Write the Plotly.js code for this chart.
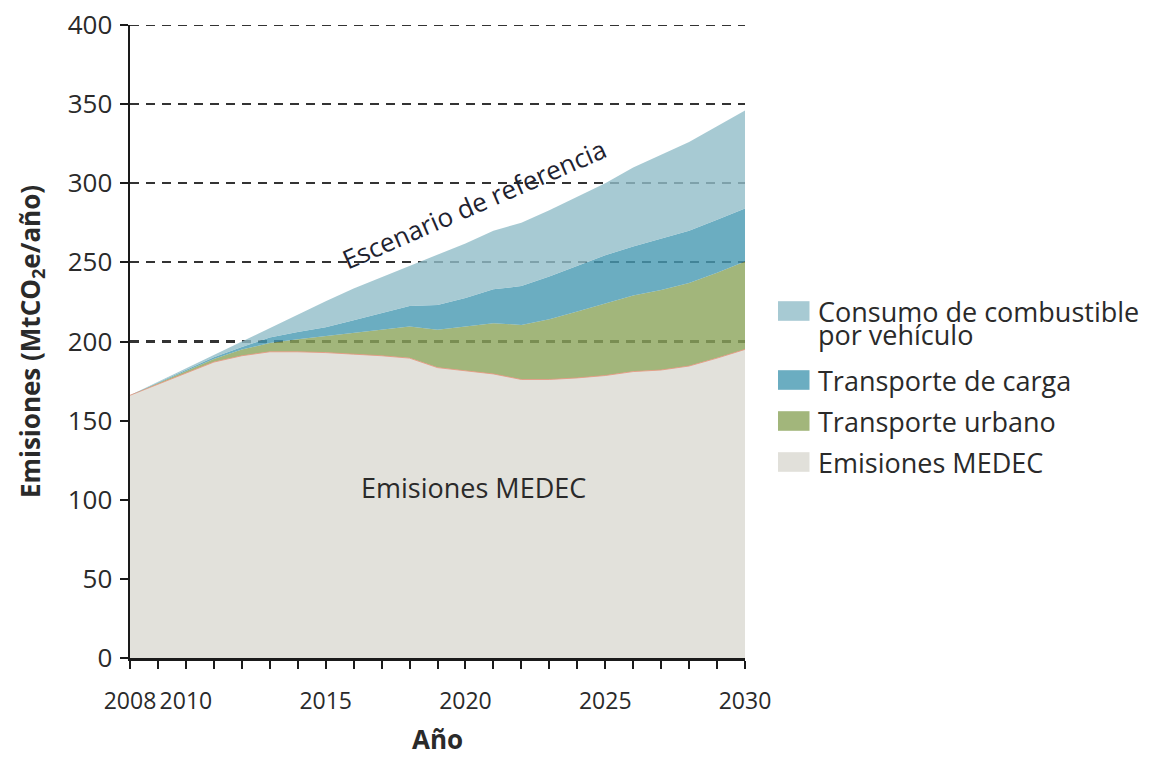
<!DOCTYPE html>
<html>
<head>
<meta charset="utf-8">
<script src="https://cdn.plot.ly/plotly-3.0.1.min.js"></script>
<style>
  html, body { margin: 0; padding: 0; background: #ffffff; }
  #chart { width: 1150px; height: 757px; }
</style>
</head>
<body>
<div id="chart"></div>
<script>
// ---- Data (MtCO2e/año) ----
const years = [2008, 2009, 2010, 2011, 2012, 2013, 2014, 2015, 2016, 2017, 2018, 2019,
               2020, 2021, 2022, 2023, 2024, 2025, 2026, 2027, 2028, 2029, 2030];
const emisionesMEDEC = [166, 173, 180, 187, 191, 193.5, 193.5, 193, 192, 191, 189.5, 183.5,
                        181.5, 179.5, 176, 176, 177, 178.5, 181, 182, 184.5, 189.5, 195];
const transporteUrbano = [0, 0.5, 1, 2, 4, 5.5, 8, 10.5, 13.5, 16.5, 20, 24,
                          28, 32, 34.5, 38, 42, 45.5, 48, 50.5, 52.5, 54, 55.5];
const transporteCarga = [0, 0.5, 1, 1, 1.5, 3.5, 4.5, 5.5, 8, 10.5, 13, 15.5,
                         18, 21.5, 24.5, 27, 29, 30.5, 31, 32.5, 33, 33.5, 33.5];
const consumoCombustible = [0, 0.5, 1, 1.5, 3.5, 6, 11, 16.5, 20, 22.5, 25, 31.5,
                            34.5, 37, 40, 42, 43.5, 45.5, 50, 53, 56, 59, 62];

const seriesNames = ['Emisiones MEDEC', 'Transporte urbano', 'Transporte de carga',
                     'Consumo de combustible por vehículo'];
const legendLines = [['Consumo de combustible', 'por vehículo'], ['Transporte de carga'],
                     ['Transporte urbano'], ['Emisiones MEDEC']];
const xTickVals = [2008, 2010, 2015, 2020, 2025, 2030];
const xTickLabels = ['2008', '2010', '2015', '2020', '2025', '2030'];
const yTickVals = [0, 50, 100, 150, 200, 250, 300, 350, 400];

// ---- Styles ----
const swatchColors = ['#a7cad3', '#6badc1', '#a2b67b', '#e1e0da']; // legend order
const fills = ['#e2e1db', 'rgba(139,164,90,0.8)', 'rgba(70,153,178,0.8)', 'rgba(145,189,200,0.8)'];
const seriesValues = [emisionesMEDEC, transporteUrbano, transporteCarga, consumoCombustible];
const textColor = '#2a2a2a';

const traces = seriesValues.map((vals, i) => ({
  type: 'scatter',
  mode: 'lines',
  x: years,
  y: vals,
  name: seriesNames[i],
  stackgroup: 'one',
  fillcolor: fills[i],
  line: i === 0 ? {color: 'rgba(232,150,128,0.85)', width: 1} : {color: fills[i], width: 0},
  showlegend: false,
  hoverinfo: 'skip'
}));

// Plot area in pixels
const L = 130, R = 745, T = 25, B = 658;
const px2x = p => (p - L) / (R - L);
const px2y = p => (B - p) / (B - T);

// ---- Manual legend (swatches + labels) ----
const shapes = [];
const annotations = [];
let cy = 311;
legendLines.forEach((lines, i) => {
  shapes.push({
    type: 'rect', xref: 'paper', yref: 'paper',
    x0: px2x(778), x1: px2x(809.5), y0: px2y(cy - 9.8), y1: px2y(cy + 9.8),
    fillcolor: swatchColors[i], line: {width: 0}, layer: 'above'
  });
  lines.forEach((ln, j) => {
    annotations.push({
      xref: 'paper', yref: 'paper', x: px2x(816), y: px2y(cy + j * 23),
      xanchor: 'left', yanchor: 'middle', showarrow: false, text: ln,
      font: {family: 'Open Sans, sans-serif', size: 27, color: textColor}
    });
  });
  cy += 41 + (lines.length - 1) * 28;
});

// top gridline at the upper range edge (Plotly omits the grid line at the range end)
shapes.push({
  type: 'line', xref: 'paper', yref: 'y', x0: 0, x1: 1, y0: yTickVals[yTickVals.length - 1], y1: yTickVals[yTickVals.length - 1],
  line: {color: '#333333', width: 2.2, dash: '9px,7px'}, layer: 'below'
});

annotations.push({
  x: 2020.3, y: 287, xref: 'x', yref: 'y', showarrow: false,
  text: 'Escenario de referencia', textangle: -23.5,
  font: {family: 'Open Sans, sans-serif', size: 26, color: '#1e2230'}
});
annotations.push({
  x: 2020.3, y: 107.5, xref: 'x', yref: 'y', showarrow: false,
  text: 'Emisiones MEDEC',
  font: {family: 'Open Sans, sans-serif', size: 27, color: textColor}
});

const layout = {
  width: 1150, height: 757,
  margin: {l: L, r: 1150 - R, t: T, b: 757 - B, pad: 0},
  paper_bgcolor: '#ffffff', plot_bgcolor: '#ffffff',
  showlegend: false,
  font: {family: 'Open Sans, sans-serif', color: textColor},
  xaxis: {
    range: [2008, 2030], fixedrange: true,
    tickmode: 'array', tickvals: xTickVals, ticktext: xTickLabels, tickangle: 0,
    ticks: 'outside', ticklen: 8, tickwidth: 2, tickcolor: '#1a1a1a',
    minor: {dtick: 1, tick0: 2008, ticks: 'outside', ticklen: 8, tickwidth: 2, tickcolor: '#1a1a1a', showgrid: false},
    showline: true, linecolor: '#1a1a1a', linewidth: 2.5,
    showgrid: false, zeroline: false,
    tickfont: {family: 'Open Sans, sans-serif', size: 23, color: textColor},
    ticklabelstandoff: 13,
    title: {text: '<b>Año</b>', font: {family: 'Open Sans, sans-serif', size: 26, color: textColor}, standoff: 30},
    automargin: false
  },
  yaxis: {
    range: [0, 400], fixedrange: true,
    tickmode: 'array', tickvals: yTickVals,
    ticks: 'outside', ticklen: 8, tickwidth: 2, tickcolor: '#1a1a1a',
    showline: true, linecolor: '#1a1a1a', linewidth: 2.5,
    showgrid: true, gridcolor: '#333333', gridwidth: 2.2, griddash: '9px,7px',
    zeroline: false,
    tickfont: {family: 'Open Sans, sans-serif', size: 26, color: textColor},
    ticklabelstandoff: 2,
    title: {text: '<b>Emisiones (MtCO<sub>2</sub>e/año)</b>', font: {family: 'Open Sans, sans-serif', size: 26, color: textColor}, standoff: 20},
    automargin: false
  },
  shapes: shapes,
  annotations: annotations
};

Plotly.newPlot('chart', traces, layout, {displayModeBar: false, staticPlot: true});
</script>
</body>
</html>
